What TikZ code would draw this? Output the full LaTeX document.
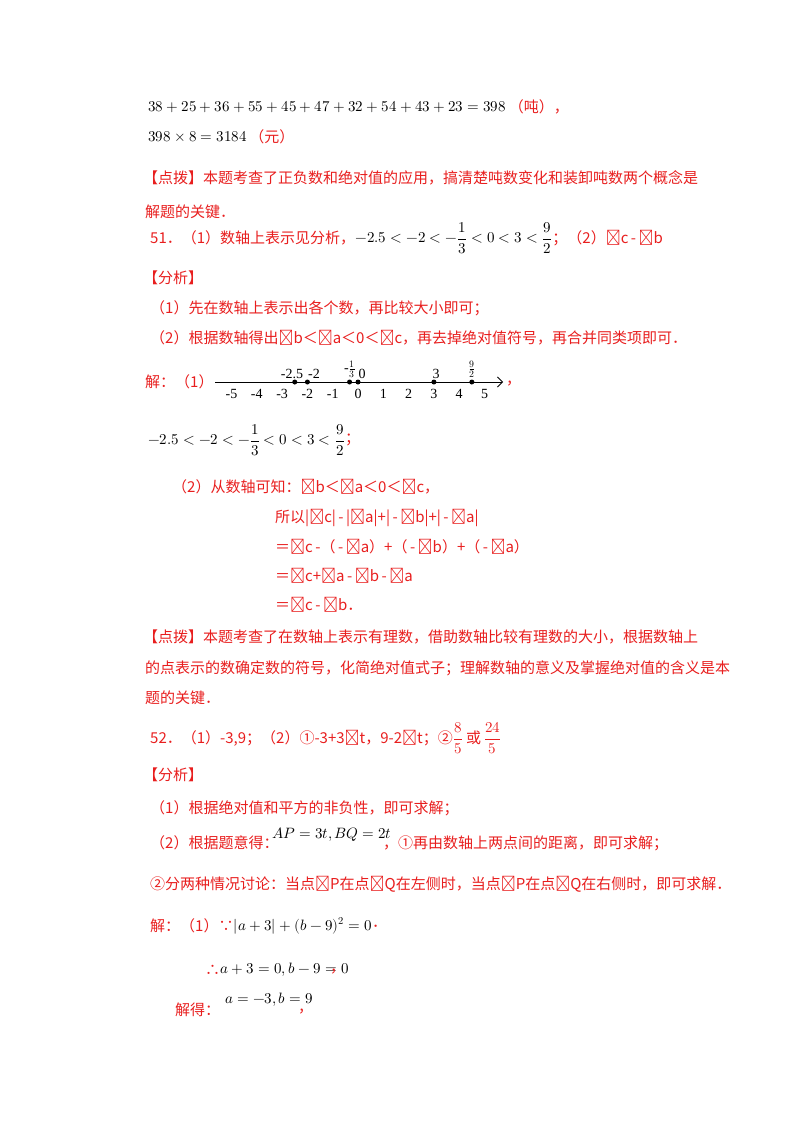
\documentclass[tikz,border=0pt]{standalone}
\usepackage{amsmath}
\usepackage{fontspec}
\usepackage{unicode-math}
\setmathfont{Latin Modern Math}
\setmainfont{Liberation Serif}
\newfontfamily\cjk{Noto Sans CJK SC}
\newfontfamily\lat{Liberation Serif}
\newcommand\vi[1]{{\lat\itshape #1}}
\usetikzlibrary{arrows.meta}
\definecolor{rd}{RGB}{232,30,30}
\tikzset{t/.style={anchor=west,inner sep=0pt,font=\fontsize{15}{18}\selectfont\cjk,text=rd},
 m/.style={anchor=west,inner sep=0pt,font=\fontsize{15}{18}\selectfont},
 nl/.style={font=\fontsize{14}{16}\selectfont,inner sep=0pt},
 dot/.style={circle,fill=black,inner sep=0pt,minimum size=5pt}}
\begin{document}
\begin{tikzpicture}[x=1pt,y=-1pt]
\useasboundingbox (0,0) rectangle (800,1132);
\node[m] (l1) at (148,107) {$38+25+36+55+45+47+32+54+43+23=398$};
\node[t] (l1b) at (l1.east) {\,（吨），};
\node[m] (l2) at (148,137) {$398\times8=3184$};
\node[t] (l2b) at (l2.east) {\,（元）};
\node[t] (l3) at (143,178) {【点拨】本题考查了正负数和绝对值的应用，搞清楚吨数变化和装卸吨数两个概念是};
\node[t] (l4) at (145,212) {解题的关键．};
\node[t] (l5) at (150,238) {51．（1）数轴上表示见分析，};
\node[m] (l5m) at (l5.east) {$-2.5<-2<-\dfrac13<0<3<\dfrac92$};
\node[t] (l5c) at (l5m.east) {；（2）\vi{c}\,-\,{\lat b}};
\node[t] (l6) at (143,278) {【分析】};
\node[t] (l7) at (150,308) {（1）先在数轴上表示出各个数，再比较大小即可；};
\node[t] (l8) at (150,338) {（2）根据数轴得出\vi{b}＜\vi{a}＜0＜\vi{c}，再去掉绝对值符号，再合并同类项即可．};
\node[t] (l9) at (145,382) {解：（1）};
% number line
\coordinate (ax0) at (215,382);
\coordinate (ax1) at (503,382);
\draw[-{Straight Barb[length=5pt]},line width=0.8pt] (ax0) -- (ax1);
\foreach \k in {-5,...,5}{
  \node[nl] (n\k) at ({358+25.3*\k},394) {\k};
}
\foreach \v/\nm in {-2.5/a,-2/b,-0.333/c,0/d,3/e,4.5/f}{
  \node[dot] (p\nm) at ({358+25.3*\v},382) {};
}
\node[nl,anchor=south] (q1) at (292,379) {-2.5};
\node[nl,anchor=south] (q2) at (314,379) {-2};
\node[nl,anchor=south] (q3) at (350,378) {-$\genfrac{}{}{0.6pt}{}{1}{3}$};
\node[nl,anchor=south] (q4) at (362,379) {0};
\node[nl,anchor=south] (q5) at (436,379) {3};
\node[nl,anchor=south] (q6) at (472,378) {$\genfrac{}{}{0.6pt}{}{9}{2}$};
\node[t] (l9c) at (506,384) {，};
\node[m] (l10) at (148,440) {$-2.5<-2<-\dfrac13<0<3<\dfrac92$};
\node[t] (l10b) at (l10.east) {；};
\node[t] (l11) at (172,487) {（2）从数轴可知：\vi{b}＜\vi{a}＜0＜\vi{c}，};
\node[t] (l12) at (275,518) {所以|\vi{c}|\,-\,|\vi{a}|+|\,-\,\vi{b}|+|\,-\,\vi{a}|};
\node[t] (l13) at (275,547) {＝\vi{c}\,-（\,-\,\vi{a}）+（\,-\,\vi{b}）+（\,-\,\vi{a}）};
\node[t] (l14) at (275,576) {＝\vi{c}+\vi{a}\,-\,\vi{b}\,-\,\vi{a}};
\node[t] (l15) at (275,605) {＝\vi{c}\,-\,{\lat b}．};
\node[t] (l16) at (143,637) {【点拨】本题考查了在数轴上表示有理数，借助数轴比较有理数的大小，根据数轴上};
\node[t] (l17) at (145,668) {的点表示的数确定数的符号，化简绝对值式子；理解数轴的意义及掌握绝对值的含义是本};
\node[t] (l18) at (145,698) {题的关键．};
\node[t] (l19) at (150,738) {52．（1）-3,9；（2）①-3+3\vi{t}，9-2\vi{t}；②};
\node[m,text=rd] (l19b) at (l19.east) {$\dfrac85$};
\node[t] (l19c) at (l19b.east) {\,或\,};
\node[m,text=rd] (l19d) at (l19c.east) {$\dfrac{24}5$};
\node[t] (l20) at (143,775) {【分析】};
\node[t] (l21) at (150,808) {（1）根据绝对值和平方的非负性，即可求解；};
\node[t] (l22) at (150,843) {（2）根据题意得：};
\node[m] (l22b) at (272,835) {$AP=3t,BQ=2t$};
\node[t] (l22c) at (383,843) {，①再由数轴上两点间的距离，即可求解；};
\node[t] (l23) at (150,884) {②分两种情况讨论：当点\vi{P}在点\vi{Q}在左侧时，当点\vi{P}在点\vi{Q}在右侧时，即可求解．};
\node[t] (l24) at (150,926) {解：（1）∵};
\node[m] (l24b) at (l24.east) {$\left|a+3\right|+(b-9)^2=0$};
\node[t] (l24c) at (l24b.east) {．};
\node[t] (l25) at (205,970) {∴};
\node[m] (l25b) at (l25.east) {$a+3=0,b-9=0$};
\node[t] (l25c) at (330,972) {，};
\node[t] (l26) at (175,1010) {解得：};
\node[m] (l26b) at (225,1000) {$a=-3,b=9$};
\node[t] (l26c) at (298,1012) {，};
\end{tikzpicture}
\end{document}
